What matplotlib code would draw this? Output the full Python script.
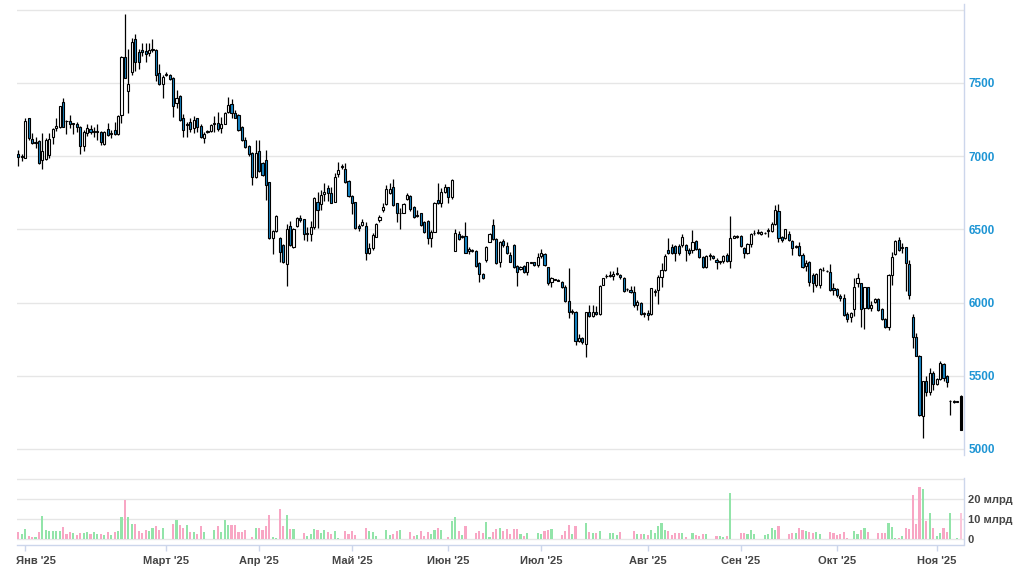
import matplotlib

matplotlib.use("Agg")
import matplotlib.pyplot as plt
import matplotlib.transforms as mtransforms
import numpy as np

# daily candles, one slot per trading session (weekend sessions included from March)
OPENS = [
    7016, 6995, 6986, 7257, 7117, 7090, 7104, 6975, 6982, 7009,
    7133, 7189, 7196, 7369, 7242, 7241, 7222, 7219, 7200, 7068,
    7155, 7182, 7167, 7165, 7167, 7081, 7185, 7149, 7178, 7149,
    7279, 7678, 7444, 7572, 7797, 7712, 7725, 7718, 7703, 7724,
    7725, 7568, 7493, 7553, 7554, 7532, 7361, 7411, 7258, 7215,
    7230, 7194, 7258, 7208, 7125, 7166, 7171, 7218, 7224, 7194,
    7219, 7304, 7354, 7292, 7281, 7201, 7110, 7068, 7018, 6854,
    7037, 6950, 6973, 6820, 6443, 6489, 6443, 6395, 6265, 6521,
    6377, 6521, 6578, 6568, 6469, 6466, 6516, 6683, 6676, 6740,
    6780, 6750, 6689, 6875, 6926, 6909, 6830, 6727, 6684, 6525,
    6530, 6523, 6336, 6375, 6450, 6564, 6632, 6673, 6745, 6786,
    6677, 6608, 6614, 6705, 6727, 6650, 6594, 6609, 6552, 6559,
    6439, 6484, 6700, 6677, 6757, 6786, 6723, 6354, 6468, 6449,
    6455, 6352, 6352, 6352, 6273, 6192, 6290, 6416, 6530, 6432,
    6274, 6422, 6388, 6324, 6393, 6249, 6226, 6251, 6210, 6273,
    6274, 6256, 6317, 6331, 6240, 6142, 6154, 6155, 6142, 6107,
    6011, 5935, 5936, 5735, 5760, 5719, 5932, 5911, 5936, 5920,
    6123, 6179, 6181, 6180, 6198, 6187, 6169, 6089, 6087, 6073,
    5986, 5998, 5924, 5930, 5925, 6072, 6084, 6176, 6221, 6358,
    6381, 6386, 6386, 6393, 6393, 6358, 6358, 6420, 6363, 6313,
    6244, 6319, 6318, 6290, 6278, 6283, 6324, 6283, 6443, 6444,
    6454, 6374, 6336, 6397, 6472, 6476, 6470, 6472, 6488, 6489,
    6534, 6625, 6450, 6443, 6470, 6420, 6381, 6386, 6325, 6250,
    6280, 6189, 6120, 6120, 6219, 6213, 6211, 6098, 6091, 6043,
    6030, 5923, 5900, 5955, 6132, 6132, 5961, 6105, 5961, 6005,
    6023, 5955, 5886, 5836, 6189, 6332, 6427, 6374, 6377, 6261,
    5900, 5764, 5636, 5225, 5461, 5386, 5518, 5443, 5477, 5582,
    5500, 5325, 5330, 5321, 5359,
]
HIGHS = [
    7038, 7016, 7257, 7261, 7160, 7133, 7110, 7155, 7120, 7155,
    7189, 7257, 7342, 7399, 7246, 7279, 7228, 7230, 7207, 7178,
    7216, 7212, 7200, 7219, 7171, 7171, 7224, 7176, 7230, 7279,
    7684, 7973, 7730, 7809, 7831, 7734, 7775, 7775, 7775, 7797,
    7730, 7628, 7550, 7576, 7561, 7539, 7452, 7418, 7285, 7235,
    7258, 7276, 7263, 7217, 7167, 7178, 7217, 7270, 7299, 7269,
    7304, 7400, 7390, 7315, 7288, 7205, 7128, 7075, 7030, 7110,
    7110, 6959, 7041, 6825, 6493, 6596, 6447, 6402, 6539, 6555,
    6510, 6585, 6596, 6573, 6516, 6555, 6722, 6755, 6767, 6819,
    6800, 6791, 6882, 6961, 6945, 6955, 6836, 6734, 6689, 6536,
    6573, 6552, 6404, 6473, 6541, 6598, 6677, 6802, 6814, 6841,
    6682, 6643, 6677, 6745, 6734, 6659, 6630, 6614, 6559, 6564,
    6495, 6689, 6814, 6779, 6807, 6791, 6841, 6500, 6491, 6461,
    6552, 6382, 6366, 6359, 6280, 6200, 6388, 6473, 6568, 6439,
    6420, 6432, 6411, 6347, 6397, 6256, 6251, 6256, 6279, 6279,
    6279, 6336, 6363, 6336, 6244, 6171, 6160, 6158, 6146, 6119,
    6235, 5959, 5941, 5788, 5765, 5936, 5982, 5986, 5977, 6119,
    6169, 6192, 6214, 6214, 6244, 6198, 6176, 6101, 6114, 6114,
    6016, 6005, 5936, 5948, 6100, 6089, 6187, 6267, 6329, 6438,
    6397, 6391, 6397, 6466, 6397, 6370, 6495, 6427, 6370, 6320,
    6324, 6336, 6324, 6301, 6286, 6324, 6336, 6594, 6461, 6461,
    6461, 6381, 6404, 6473, 6495, 6500, 6491, 6480, 6507, 6552,
    6667, 6671, 6457, 6504, 6489, 6427, 6393, 6416, 6336, 6292,
    6284, 6200, 6200, 6234, 6243, 6220, 6261, 6132, 6098, 6055,
    6059, 5932, 5932, 6166, 6200, 6136, 6109, 6109, 6007, 6032,
    6030, 5961, 5893, 6195, 6348, 6427, 6445, 6404, 6382, 6291,
    5920, 5795, 5643, 5466, 5495, 5552, 5530, 5482, 5598, 5590,
    5507, 5336, 5336, 5330, 5370,
]
LOWS = [
    6930, 6964, 6986, 7110, 7081, 7054, 6946, 6912, 6975, 6987,
    7081, 7171, 7189, 7196, 7149, 7189, 7149, 7167, 7016, 7032,
    7137, 7151, 7133, 7110, 7077, 7077, 7140, 7126, 7144, 7144,
    7223, 7531, 7291, 7550, 7583, 7594, 7685, 7640, 7685, 7707,
    7509, 7487, 7396, 7545, 7516, 7268, 7326, 7240, 7132, 7128,
    7167, 7155, 7167, 7121, 7087, 7160, 7167, 7167, 7174, 7155,
    7217, 7292, 7263, 7258, 7174, 7105, 7052, 7002, 6801, 6852,
    6893, 6863, 6699, 6436, 6333, 6482, 6276, 6270, 6116, 6386,
    6375, 6516, 6550, 6425, 6420, 6420, 6505, 6507, 6630, 6690,
    6690, 6682, 6689, 6859, 6914, 6818, 6723, 6602, 6500, 6491,
    6525, 6291, 6332, 6359, 6445, 6552, 6620, 6666, 6743, 6659,
    6552, 6500, 6609, 6700, 6627, 6575, 6586, 6523, 6477, 6400,
    6377, 6480, 6673, 6655, 6750, 6677, 6705, 6354, 6427, 6439,
    6336, 6334, 6348, 6245, 6143, 6163, 6274, 6411, 6427, 6260,
    6244, 6381, 6329, 6274, 6233, 6114, 6221, 6201, 6187, 6267,
    6251, 6244, 6306, 6246, 6123, 6107, 6153, 6148, 6096, 6005,
    5891, 5925, 5708, 5731, 5717, 5628, 5904, 5900, 5916, 5913,
    6119, 6164, 6176, 6153, 6187, 6160, 6069, 6078, 6066, 5970,
    5948, 5918, 5902, 5884, 5918, 6044, 5989, 6109, 6214, 6329,
    6329, 6283, 6324, 6381, 6283, 6324, 6336, 6358, 6301, 6237,
    6237, 6290, 6295, 6230, 6263, 6267, 6279, 6237, 6438, 6438,
    6381, 6302, 6329, 6381, 6461, 6466, 6463, 6466, 6450, 6480,
    6530, 6416, 6416, 6432, 6420, 6324, 6370, 6318, 6234, 6214,
    6114, 6075, 6105, 6098, 6214, 6205, 6082, 6050, 6041, 6009,
    5911, 5864, 5870, 5909, 6103, 5830, 5816, 5955, 5939, 5998,
    5939, 5882, 5825, 5809, 6120, 6325, 6354, 6341, 6082, 6023,
    5691, 5632, 5225, 5077, 5359, 5370, 5400, 5438, 5473, 5461,
    5423, 5234, 5314, 5318, 5127,
]
CLOSES = [
    6993, 7000, 7239, 7122, 7088, 7098, 6953, 7032, 7110, 7115,
    7182, 7207, 7342, 7200, 7236, 7216, 7225, 7200, 7068, 7162,
    7189, 7167, 7169, 7168, 7095, 7167, 7144, 7151, 7149, 7273,
    7673, 7534, 7493, 7779, 7644, 7644, 7712, 7700, 7725, 7726,
    7554, 7493, 7543, 7555, 7527, 7340, 7395, 7247, 7178, 7220,
    7185, 7247, 7201, 7128, 7148, 7168, 7212, 7220, 7183, 7219,
    7292, 7349, 7292, 7262, 7178, 7110, 7064, 7011, 6854, 7023,
    6897, 6870, 6801, 6443, 6489, 6589, 6345, 6276, 6505, 6390,
    6505, 6578, 6562, 6470, 6471, 6516, 6715, 6630, 6733, 6755,
    6745, 6682, 6859, 6905, 6928, 6825, 6727, 6682, 6507, 6507,
    6550, 6336, 6375, 6461, 6536, 6586, 6655, 6773, 6773, 6666,
    6609, 6610, 6673, 6734, 6636, 6586, 6596, 6529, 6484, 6439,
    6484, 6682, 6677, 6752, 6791, 6723, 6836, 6473, 6432, 6451,
    6341, 6366, 6361, 6250, 6195, 6169, 6381, 6466, 6432, 6267,
    6416, 6393, 6340, 6278, 6240, 6210, 6240, 6208, 6274, 6275,
    6253, 6313, 6340, 6253, 6135, 6164, 6156, 6150, 6105, 6011,
    5932, 5937, 5735, 5760, 5728, 5932, 5911, 5938, 5920, 6112,
    6164, 6181, 6183, 6192, 6200, 6171, 6078, 6091, 6071, 5982,
    6005, 5925, 5926, 5914, 6096, 6074, 6176, 6221, 6320, 6336,
    6340, 6336, 6336, 6450, 6358, 6336, 6416, 6363, 6313, 6244,
    6320, 6321, 6302, 6274, 6280, 6320, 6283, 6438, 6454, 6455,
    6386, 6336, 6397, 6466, 6474, 6478, 6484, 6474, 6490, 6534,
    6632, 6443, 6427, 6500, 6427, 6370, 6383, 6325, 6245, 6270,
    6143, 6136, 6195, 6227, 6221, 6215, 6086, 6086, 6052, 6032,
    5916, 5886, 5927, 6109, 6166, 5955, 6105, 5961, 5984, 6025,
    5950, 5886, 5832, 6189, 6309, 6420, 6359, 6376, 6268, 6052,
    5764, 5636, 5234, 5461, 5386, 5518, 5445, 5475, 5586, 5484,
    5457, 5330, 5320, 5323, 5132,
]
# traded value, billions of roubles
VOLUMES = [
    3.7, 2.7, 5.0, 1.7, 1.2, 1.2, 3.7, 11.7, 4.7, 4.2,
    4.2, 3.8, 4.2, 6.2, 2.7, 3.7, 3.0, 2.2, 3.2, 3.2,
    3.7, 2.7, 3.7, 2.7, 2.7, 2.2, 3.7, 2.2, 3.7, 4.2,
    11.2, 19.7, 11.2, 7.7, 7.7, 4.2, 3.2, 4.7, 4.2, 5.7,
    6.7, 4.7, 5.7, 0, 0, 7.7, 9.7, 7.2, 5.7, 7.2,
    3.7, 3.7, 2.7, 6.7, 3.7, 0, 0, 4.7, 6.7, 3.7,
    9.7, 7.2, 7.2, 7.2, 3.7, 3.7, 4.7, 0, 1.2, 5.7,
    5.7, 4.7, 6.7, 12.2, 1.2, 0.7, 15.2, 6.7, 12.2, 5.2,
    5.2, 0, 0, 3.2, 1.7, 2.7, 5.2, 4.7, 3.2, 4.7,
    3.7, 2.7, 4.2, 0.7, 0, 4.2, 2.7, 4.2, 2.2, 0,
    0, 5.7, 4.2, 3.7, 1.7, 0, 0, 4.7, 2.2, 2.7,
    4.2, 4.7, 0, 0, 3.7, 1.7, 2.2, 4.2, 1.7, 3.7,
    2.7, 4.7, 5.7, 4.7, 0, 1.2, 9.2, 11.2, 4.2, 2.2,
    6.7, 0, 0, 3.2, 4.2, 3.2, 8.7, 1.2, 3.7, 5.2,
    5.7, 4.0, 5.2, 2.7, 5.2, 5.2, 2.7, 1.7, 3.2, 0,
    0, 3.2, 2.7, 4.2, 4.7, 5.2, 0, 0, 2.2, 4.2,
    7.2, 2.7, 6.7, 0, 0, 8.2, 3.7, 3.2, 3.2, 4.2,
    0, 0, 3.2, 3.2, 2.2, 3.7, 0, 0, 0, 4.2,
    2.7, 2.7, 2.7, 2.2, 4.7, 3.2, 6.7, 8.2, 4.7, 4.2,
    2.2, 3.2, 3.2, 3.2, 1.2, 0, 3.2, 2.2, 1.7, 2.7,
    2.7, 0, 0, 1.7, 1.7, 1.2, 1.7, 23.2, 0, 0,
    3.2, 3.2, 2.7, 4.7, 2.7, 0, 0, 2.2, 2.7, 5.7,
    4.7, 6.7, 0, 0, 2.7, 3.2, 3.2, 5.7, 4.7, 4.2,
    3.7, 3.2, 3.7, 2.7, 0, 0, 3.7, 3.2, 2.2, 2.7,
    3.7, 0.7, 0, 4.2, 2.7, 4.7, 5.7, 3.7, 0, 0,
    3.2, 3.2, 3.2, 8.2, 6.2, 0.7, 0.7, 1.7, 5.5, 5.2,
    22.0, 7.7, 26.0, 25.0, 9.2, 12.8, 5.7, 1.7, 3.2, 5.7,
    3.7, 13.2, 0, 0.7, 12.8,
]

MONTH_TICKS = [2, 43, 70, 97, 125, 152, 183, 210, 238, 267]
MONTH_LABELS = [
    "Янв '25", "Март '25", "Апр '25", "Май '25", "Июн '25",
    "Июл '25", "Авг '25", "Сен '25", "Окт '25", "Ноя '25",
]
PRICE_TICKS = [5000, 5500, 6000, 6500, 7000, 7500, 8000]
PRICE_LABELS = ["5000", "5500", "6000", "6500", "7000", "7500", ""]
VOLUME_TICKS = [0, 10, 20, 30]
VOLUME_LABELS = ["0", "10 млрд", "20 млрд", ""]

FIG_W, FIG_H = 1018, 568
DPI = 100
GRID = "#e6e6e6"
AXIS_LINE = "#ccd6eb"
PRICE_TEXT = "#1e95d4"
LABEL_TEXT = "#454545"
CANDLE_DOWN = "#1686c6"
VOL_UP = "#92e4a9"
VOL_DOWN = "#f8a6c4"
VOL_LAST = "#fbc6da"

plt.rcParams["font.family"] = ["Liberation Sans", "DejaVu Sans"]


def _add_axes_px(fig, left, top, right, bottom):
    return fig.add_axes(
        [left / FIG_W, 1 - bottom / FIG_H, (right - left) / FIG_W, (bottom - top) / FIG_H]
    )


def _style_spines(ax, bottom=False):
    for side in ("top", "left"):
        ax.spines[side].set_visible(False)
    ax.spines["bottom"].set_visible(bottom)
    for side in ("right", "bottom"):
        ax.spines[side].set_color(AXIS_LINE)
        ax.spines[side].set_linewidth(1.0)


def main():
    opens = np.array(OPENS, dtype=float)
    highs = np.array(HIGHS, dtype=float)
    lows = np.array(LOWS, dtype=float)
    closes = np.array(CLOSES, dtype=float)
    volumes = np.array(VOLUMES, dtype=float)
    n = len(closes)
    assert len(opens) == len(highs) == len(lows) == len(volumes) == n
    x = np.arange(n)
    up = closes >= opens
    xlim = (-0.38, n - 1 + 0.8)

    fig = plt.figure(figsize=(FIG_W / DPI, FIG_H / DPI), dpi=DPI)

    # price panel
    ax = _add_axes_px(fig, 17, 4, 963.5, 455)
    ax.set_xlim(*xlim)
    ax.set_ylim(4959, 8038)
    ax.vlines(x, lows, highs, color="black", linewidth=0.9, zorder=2)
    body_bottom = np.minimum(opens, closes)
    body_height = np.maximum(np.abs(closes - opens), 5)
    faces = np.where(up, "white", CANDLE_DOWN).astype(object)
    faces[-1] = "black"
    ax.bar(
        x,
        body_height,
        bottom=body_bottom,
        width=0.62,
        color=list(faces),
        edgecolor="black",
        linewidth=0.8,
        zorder=3,
    )
    ax.set_xticks([])
    ax.yaxis.tick_right()
    ax.set_yticks(PRICE_TICKS)
    ax.set_yticklabels(PRICE_LABELS, fontweight="bold")
    ax.tick_params(axis="y", length=0, pad=3.5, labelsize=8.5, labelcolor=PRICE_TEXT)
    ax.grid(axis="y", color=GRID, linewidth=1.0)
    ax.set_axisbelow(True)
    _style_spines(ax)

    # volume panel
    axv = _add_axes_px(fig, 17, 478, 963.5, 544.5)
    axv.set_xlim(*xlim)
    axv.set_ylim(-2.75, 30.5)
    vol_colors = [VOL_UP if u else VOL_DOWN for u in up]
    vol_colors[-1] = VOL_LAST
    axv.bar(x, volumes, width=0.62, color=vol_colors, linewidth=0, zorder=2)
    axv.yaxis.tick_right()
    axv.set_yticks(VOLUME_TICKS)
    axv.set_yticklabels(VOLUME_LABELS, fontweight="bold")
    axv.tick_params(axis="y", length=0, pad=3.0, labelsize=8, labelcolor=LABEL_TEXT)
    axv.set_xticks(MONTH_TICKS)
    axv.set_xticklabels(MONTH_LABELS, fontweight="bold")
    axv.tick_params(
        axis="x", length=4.5, width=1.0, color=AXIS_LINE, pad=3.5,
        labelsize=8, labelcolor=LABEL_TEXT,
    )
    first = axv.get_xticklabels()[0]
    first.set_horizontalalignment("left")
    first.set_transform(
        first.get_transform() + mtransforms.ScaledTranslation(-9 / DPI, 0, fig.dpi_scale_trans)
    )
    axv.grid(axis="y", color=GRID, linewidth=1.0)
    axv.set_axisbelow(True)
    _style_spines(axv, bottom=True)

    fig.savefig("out.png", dpi=DPI)
    plt.close(fig)


if __name__ == "__main__":
    main()
